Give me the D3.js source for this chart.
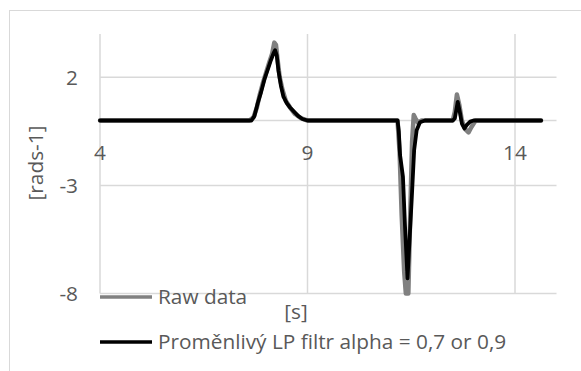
<!DOCTYPE html>
<html>
<head>
<meta charset="utf-8">
<script src="https://cdn.jsdelivr.net/npm/d3@7"></script>
<style>
  html, body { margin: 0; padding: 0; background: #fff; }
  svg text { font-family: "Open Sans", Lato, sans-serif; fill: #595959; }
</style>
</head>
<body>
<svg id="chart" width="581" height="371"></svg>
<script>
// Angular rate over time: raw gyro signal and variable low-pass filtered signal
const rawX = [4, 7.60, 7.70, 7.78, 7.85, 7.92, 8.00, 8.08, 8.15, 8.20, 8.24, 8.28, 8.33, 8.40, 8.48, 8.58, 8.70, 8.85, 9.00,
              11.17, 11.22, 11.27, 11.33, 11.37, 11.43, 11.48, 11.52, 11.56, 11.60, 11.66, 11.75,
              12.50, 12.55, 12.60, 12.66, 12.72, 12.80, 12.88, 12.95, 13.05, 14.63];
const rawY = [0, 0, 0.15, 0.6, 1.2, 1.7, 2.2, 2.7, 3.1, 3.6, 3.5, 2.8, 2.0, 1.4, 0.9, 0.6, 0.3, 0.1, 0,
              0, -1.5, -4.4, -7.0, -8.0, -8.0, -4.0, -1.0, 0.25, 0.1, -0.1, 0,
              0, 0.4, 1.2, 0.7, 0.0, -0.4, -0.55, -0.3, 0, 0];

const filtX = [4, 7.65, 7.72, 7.80, 7.88, 7.97, 8.05, 8.12, 8.18, 8.22, 8.26, 8.30, 8.36, 8.42, 8.50, 8.58, 8.68, 8.78, 8.88, 9.00,
               11.17, 11.20, 11.23, 11.30, 11.35, 11.41, 11.51, 11.57, 11.63, 11.71, 11.83,
               12.50, 12.55, 12.62, 12.67, 12.72, 12.78, 12.84, 12.92, 13.00, 13.15, 14.63];
const filtY = [0, 0, 0.2, 0.8, 1.3, 1.95, 2.4, 2.8, 3.1, 3.25, 3.0, 2.3, 1.6, 1.1, 0.8, 0.6, 0.4, 0.2, 0.07, 0,
               0, -0.5, -1.6, -2.6, -4.9, -7.3, -3.68, -1.37, -0.45, -0.08, 0,
               0, 0.1, 0.86, 0.4, -0.14, -0.37, -0.2, -0.05, 0, 0, 0];

const xTicks = [4, 9, 14];
const yTicks = [2, -3, -8];
const seriesNames = ["Raw data", "Proměnlivý LP filtr alpha = 0,7 or 0,9"];
const seriesColors = ["#808080", "#000000"];
const axisTitles = { x: "[s]", y: "[rads-1]" };

const svg = d3.select("#chart");
const fontSize = 20.8;

// chart area frame
svg.append("rect")
  .attr("x", 9.5).attr("y", 10.5)
  .attr("width", 620).attr("height", 420)
  .attr("fill", "#fff").attr("stroke", "#d9d9d9").attr("stroke-width", 1);

const x = d3.scaleLinear().domain([4, 15]).range([100, 556.5]);
const y = d3.scaleLinear().domain([-8, 4]).range([293.5, 34]);

const grid = svg.append("g").attr("stroke", "#d9d9d9").attr("stroke-width", 1.5);
// vertical gridlines (and value axis at x = 4)
grid.selectAll("line.v").data(xTicks).join("line")
  .attr("x1", d => x(d)).attr("x2", d => x(d))
  .attr("y1", y(4)).attr("y2", y(-8));
// horizontal gridlines
grid.selectAll("line.h").data(yTicks).join("line")
  .attr("x1", x(4)).attr("x2", x(15))
  .attr("y1", d => y(d)).attr("y2", d => y(d));
// category axis crossing at zero
grid.append("line")
  .attr("x1", x(4)).attr("x2", x(15))
  .attr("y1", y(0)).attr("y2", y(0));

// y tick labels
svg.append("g").selectAll("text").data(yTicks).join("text")
  .attr("x", 78).attr("y", d => y(d))
  .attr("dy", "0.35em")
  .attr("text-anchor", "end")
  .style("font-size", fontSize + "px")
  .text(d => d);

// x tick labels, below the zero line
svg.append("g").selectAll("text").data(xTicks).join("text")
  .attr("x", d => x(d)).attr("y", 160)
  .attr("text-anchor", "middle")
  .style("font-size", fontSize + "px")
  .text(d => d);

// series lines
const line = d3.line().x(d => x(d[0])).y(d => y(d[1]));
const rawPts = rawX.map((v, i) => [v, rawY[i]]);
const filtPts = filtX.map((v, i) => [v, filtY[i]]);

svg.append("path").datum(rawPts)
  .attr("d", line).attr("fill", "none")
  .attr("stroke", seriesColors[0]).attr("stroke-width", 4.5)
  .attr("stroke-linejoin", "round").attr("stroke-linecap", "round");
svg.append("path").datum(filtPts)
  .attr("d", line).attr("fill", "none")
  .attr("stroke", seriesColors[1]).attr("stroke-width", 3.8)
  .attr("stroke-linejoin", "round").attr("stroke-linecap", "round");

// axis titles
svg.append("text")
  .attr("transform", "translate(36,163) rotate(-90)")
  .attr("text-anchor", "middle").attr("dy", "0.35em")
  .style("font-size", fontSize + "px")
  .text(axisTitles.y);
svg.append("text")
  .attr("x", 296).attr("y", 312).attr("dy", "0.35em")
  .attr("text-anchor", "middle")
  .style("font-size", fontSize + "px")
  .text(axisTitles.x);

// legend
const legendY = [297, 342];
const lg = svg.append("g");
seriesNames.forEach((name, i) => {
  lg.append("line")
    .attr("x1", 100).attr("x2", 152)
    .attr("y1", legendY[i]).attr("y2", legendY[i])
    .attr("stroke", seriesColors[i]).attr("stroke-width", 3.5);
  lg.append("text")
    .attr("x", 158).attr("y", legendY[i]).attr("dy", "0.35em")
    .style("font-size", fontSize + "px")
    .text(name);
});
</script>
</body>
</html>
